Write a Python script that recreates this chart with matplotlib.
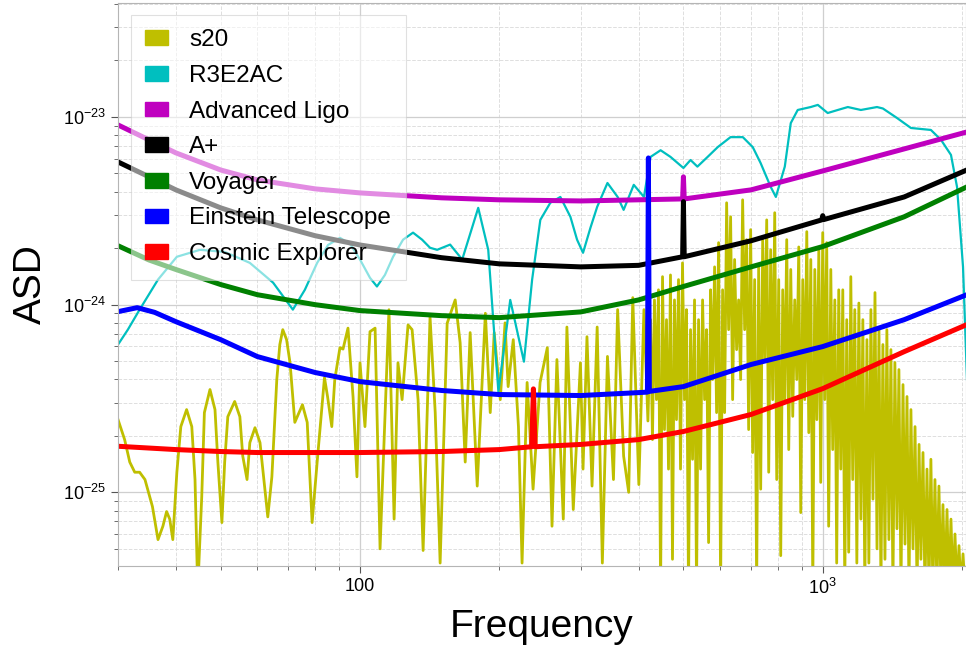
import numpy as np
import matplotlib
matplotlib.use("Agg")
import matplotlib.pyplot as plt
from matplotlib.patches import Patch
from matplotlib.ticker import NullFormatter

plt.rcParams['font.family'] = ['Liberation Sans', 'DejaVu Sans']
plt.rcParams['mathtext.fontset'] = 'custom'
plt.rcParams['mathtext.rm'] = 'Liberation Sans'
plt.rcParams['mathtext.it'] = 'Liberation Sans:italic'

# --- s20 supernova waveform spectrum (ASD in units of 1e-25) ---
s20_f = [
    30.0, 31.0, 31.8, 32.6, 33.4, 34.3, 35.6, 36.6, 37.5, 38.2, 38.8, 39.4,
    40.2, 41.0, 42.2, 43.3, 44.0, 44.6, 45.5, 46.1, 47.4, 48.6, 49.3, 50.3,
    51.0, 51.8, 53.6, 55.0, 55.8, 57.0, 57.8, 59.3, 60.8, 62.3, 63.2, 64.5,
    66.1, 67.1, 68.1, 69.4, 70.6, 72.3, 75.1, 76.9, 78.8, 80.8, 83.8, 85.1,
    86.9, 88.2, 90.5, 91.9, 94.2, 96.6, 98.5, 100.0,
    102.5, 105.1, 107.8, 110.5, 115.5, 118.5, 120.8, 123.3, 127.0, 129.6,
    133.5, 136.9, 141.7, 145.4, 149.0, 154.3, 160.6, 164.6, 168.8, 173.0,
    179.2, 186.6, 191.2, 195.0, 201.0, 205.8, 209.0, 214.4, 220.0, 224.0,
    229.7, 236.6, 245.0, 254.0, 260.0, 266.4, 275.0, 280.0, 289.0, 299.5,
    303.4, 309.4, 317.3, 325.5, 334.0, 342.6, 353.0, 360.4, 371.3, 380.8,
    388.6, 400.5, 410.8, 419.0,
    424.6, 428.6, 432.9, 437.2, 441.6, 446.3, 450.6, 455.0, 459.6, 464.2,
    468.8, 473.5, 478.2, 483.0, 487.9, 492.8, 497.7, 502.7, 507.7, 512.8,
    518.0, 523.2, 528.4, 533.7, 539.1, 544.5, 550.0, 555.5, 561.1, 566.7,
    572.3, 578.1, 583.9, 589.7, 595.6, 601.6, 607.6, 613.7, 619.9, 626.1,
    632.3, 638.7, 645.0, 651.5, 658.0, 664.7, 671.3, 678.0, 684.8, 691.7,
    698.6, 705.6, 712.7, 719.8, 727.0, 734.4, 741.7, 749.2, 756.7, 764.3,
    771.9, 779.7, 787.5, 795.4, 803.3, 811.4, 819.5, 827.7, 836.0, 844.4,
    852.9, 861.4, 870.0, 878.8, 887.6, 896.5, 905.5, 914.6, 923.7, 933.0,
    942.4, 951.8, 961.3, 971.0, 980.7, 990.1, 1000, 1010, 1020, 1030,
    1041, 1051, 1062, 1072, 1083, 1094, 1105, 1116, 1127, 1138,
    1150, 1161, 1173, 1185, 1197, 1209, 1221, 1233, 1246, 1258,
    1271, 1284, 1297, 1310, 1323, 1336, 1349, 1363, 1376, 1390,
    1404, 1418, 1432, 1447, 1461, 1476, 1491, 1506, 1521, 1536,
    1551, 1567, 1583, 1599, 1615, 1630, 1647, 1663, 1680, 1697,
    1713, 1730, 1748, 1765, 1783, 1801, 1819, 1837, 1856, 1874,
    1893, 1912, 1931, 1951, 1970, 1990, 2010, 2030, 2050,
]
s20_val = [
    2.44, 1.91, 1.45, 1.28, 1.28, 1.17, 0.84, 0.56, 0.66, 0.79, 0.72, 0.56,
    1.28, 2.24, 2.76, 2.24, 1.17, 0.30, 0.95, 2.66, 3.53, 2.76, 1.45, 0.69,
    1.45, 2.53, 3.05, 2.53, 1.56, 1.17, 1.84, 2.21, 1.84, 1.04, 0.74, 1.21,
    3.99, 6.13, 7.36, 6.51, 4.90, 2.36, 2.93, 2.36, 0.69, 1.45, 4.09, 3.23,
    2.24, 3.99, 5.90, 5.80, 7.50, 3.23, 1.21, 4.90,
    2.24, 7.18, 7.50, 0.50, 9.40, 0.72, 4.90, 3.12, 7.80, 7.36,
    3.12, 0.49, 8.60, 2.66, 0.42, 7.96, 10.6, 6.27, 1.45, 7.10,
    1.08, 9.00, 2.66, 7.10, 3.12, 8.00, 3.66, 6.51, 2.24, 0.42,
    3.85, 1.04, 3.85, 5.90, 0.66, 5.10, 0.72, 7.60, 0.81, 4.90,
    1.33, 6.75, 1.08, 7.60, 0.42, 5.30, 1.17, 9.41, 1.56, 1.00,
    10.9, 1.10, 9.41, 2.40,
    8.32, 1.91, 10.6, 3.12, 12.0, 0.30, 14.1, 2.16, 8.32, 1.33,
    14.4, 0.44, 10.6, 2.44, 13.6, 1.33, 16.7, 3.12, 9.41, 0.30,
    7.36, 1.50, 10.6, 0.30, 8.32, 1.33, 10.6, 3.12, 7.36, 0.54,
    12.0, 3.99, 15.9, 2.66, 21.4, 0.30, 12.0, 2.66, 34.9, 7.36,
    29.4, 3.12, 17.4, 5.76, 10.6, 3.99, 36.2, 7.36, 22.2, 2.16,
    25.1, 1.63, 13.6, 0.30, 15.9, 1.04, 22.2, 5.10, 28.3, 1.28,
    19.6, 3.12, 30.9, 1.17, 13.6, 0.46, 12.0, 3.12, 22.2, 1.69,
    15.4, 2.54, 10.6, 3.99, 20.3, 0.78, 13.6, 3.12, 24.5, 2.08,
    17.4, 0.30, 15.4, 2.44, 19.6, 1.13, 24.2, 3.12, 21.4, 0.66,
    15.4, 1.69, 10.6, 0.42, 12.0, 1.33, 12.0, 0.30, 8.32, 0.48,
    14.1, 1.17, 9.41, 0.42, 10.2, 0.72, 8.32, 0.30, 6.51, 0.42,
    9.41, 0.92, 11.6, 0.50, 7.36, 0.30, 6.13, 0.44, 7.36, 0.56,
    5.76, 0.30, 4.92, 0.64, 4.51, 0.30, 3.75, 0.53, 3.24, 0.30,
    2.76, 0.50, 2.24, 0.30, 1.80, 0.44, 1.63, 0.30, 1.33, 0.30,
    1.50, 0.30, 1.17, 0.30, 1.08, 0.30, 0.86, 0.30, 0.81, 0.30,
    0.72, 0.30, 0.60, 0.30, 0.52, 0.30, 0.47, 0.30, 0.40,
]
s20_asd = np.array(s20_val) * 1e-25

# --- R3E2AC detector ---
r3_f = [30.0, 31.5, 33.4, 36.6, 40.2, 45.1, 51.0, 57.8, 64.9, 71.6, 76.0,
        80.8, 85.3, 90.5, 95.2, 100.0, 105.1, 108.8, 113.2, 117.9, 123.9,
        130.2, 136.2, 141.7, 146.8, 156.6, 166.3, 180.1, 189.3, 199.1, 211.2,
        226.1, 235.5, 245.3, 257.8, 271.0, 284.9, 294.5, 303.4, 314.8, 325.5,
        342.6, 360.4, 371.3, 390.5, 410.8, 424.6, 446.3, 468.8, 500.0, 518.0,
        536.0, 564.0, 593.0, 632.0, 672.0, 706.0, 734.0, 772.0, 792.0, 828.0,
        853.0, 883.0, 942.0, 976.0, 1025, 1078, 1133, 1209, 1310, 1349, 1447,
        1551, 1713, 1801, 1893, 1951, 2010, 2050]
r3_asd = [6.13e-25, 7.36e-25, 9.41e-25, 1.36e-24, 1.80e-24, 1.96e-24,
          1.91e-24, 1.67e-24, 1.31e-24, 9.41e-25, 1.20e-24, 1.67e-24,
          2.08e-24, 2.27e-24, 2.11e-24, 1.74e-24, 1.39e-24, 1.25e-24,
          1.44e-24, 1.80e-24, 2.22e-24, 2.42e-24, 2.22e-24, 2.01e-24,
          1.96e-24, 2.09e-24, 1.74e-24, 3.28e-24, 1.96e-24, 3.44e-25,
          1.06e-24, 4.97e-25, 1.36e-24, 2.83e-24, 3.49e-24, 3.75e-24,
          2.94e-24, 2.22e-24, 1.89e-24, 2.57e-24, 3.32e-24, 4.45e-24,
          3.75e-24, 3.20e-24, 4.35e-24, 3.75e-24, 6.13e-24, 6.65e-24,
          6.13e-24, 5.35e-24, 5.90e-24, 5.44e-24, 6.13e-24, 6.91e-24,
          7.81e-24, 7.81e-24, 6.91e-24, 5.69e-24, 4.24e-24, 3.75e-24,
          5.44e-24, 9.28e-24, 1.09e-23, 1.13e-23, 1.16e-23, 1.05e-23,
          1.09e-23, 1.13e-23, 1.09e-23, 1.13e-23, 1.11e-23, 9.88e-24,
          8.74e-24, 8.53e-24, 7.56e-24, 6.28e-24, 4.24e-24, 1.59e-24, 3.99e-25]

# --- Advanced LIGO ---
aligo_f = [30, 35, 40, 50, 60, 80, 100, 150, 200, 300, 400, 498, 500, 502,
           700, 1000, 1500, 2048]
aligo_asd = [9.07e-24, 7.55e-24, 6.44e-24, 5.22e-24, 4.62e-24, 4.14e-24,
             3.94e-24, 3.71e-24, 3.62e-24, 3.57e-24, 3.62e-24, 3.66e-24,
             4.80e-24, 3.66e-24, 4.09e-24, 5.16e-24, 6.76e-24, 8.32e-24]

# --- A+ ---
aplus_f = [30, 35, 40, 50, 60, 80, 100, 150, 200, 300, 400, 498, 500, 502,
           700, 995, 1000, 1005, 1500, 2048]
aplus_asd = [5.76e-24, 4.80e-24, 4.09e-24, 3.28e-24, 2.83e-24, 2.33e-24,
             2.08e-24, 1.78e-24, 1.65e-24, 1.59e-24, 1.62e-24, 1.80e-24,
             3.54e-24, 1.80e-24, 2.19e-24, 2.83e-24, 2.98e-24, 2.84e-24,
             3.75e-24, 5.22e-24]

# --- Voyager ---
voyager_f = [30, 35, 40, 50, 60, 80, 100, 150, 200, 300, 400, 500, 700,
             1000, 1500, 2048]
voyager_asd = [2.06e-24, 1.73e-24, 1.54e-24, 1.28e-24, 1.13e-24, 1.00e-24,
               9.30e-25, 8.74e-25, 8.53e-25, 9.15e-25, 1.06e-24, 1.25e-24,
               1.59e-24, 2.04e-24, 2.94e-24, 4.24e-24]

# --- Einstein Telescope ---
et_f = [30, 33, 36, 40, 50, 60, 80, 100, 150, 200, 300, 400, 418, 420, 422,
        500, 700, 1000, 1500, 2048]
et_asd = [9.18e-25, 9.64e-25, 9.10e-25, 8.12e-25, 6.51e-25, 5.29e-25,
          4.35e-25, 3.89e-25, 3.49e-25, 3.32e-25, 3.28e-25, 3.40e-25,
          3.42e-25, 6.05e-24, 3.45e-25, 3.66e-25, 4.80e-25, 5.98e-25,
          8.32e-25, 1.13e-24]

# --- Cosmic Explorer ---
ce_f = [30, 40, 50, 60, 80, 100, 150, 200, 235, 237, 239, 300, 400, 500,
        700, 1000, 1500, 2048]
ce_asd = [1.76e-25, 1.69e-25, 1.65e-25, 1.63e-25, 1.63e-25, 1.63e-25,
          1.65e-25, 1.69e-25, 1.75e-25, 3.56e-25, 1.75e-25, 1.80e-25,
          1.91e-25, 2.11e-25, 2.60e-25, 3.57e-25, 5.62e-25, 7.83e-25]

labels = ['s20', 'R3E2AC', 'Advanced Ligo', 'A+', 'Voyager',
          'Einstein Telescope', 'Cosmic Explorer']
colors = ['y', 'c', 'm', 'k', 'g', 'b', 'r']

fig = plt.figure(figsize=(9.66, 6.5), dpi=100)
ax = fig.add_axes([0.1222, 0.1292, 0.8778, 0.8662])

ax.loglog(s20_f, s20_asd, color=colors[0], lw=2.0)
ax.loglog(r3_f, r3_asd, color=colors[1], lw=1.6)
ax.loglog(aligo_f, aligo_asd, color=colors[2], lw=3.6)
ax.loglog(aplus_f, aplus_asd, color=colors[3], lw=3.6)
ax.loglog(voyager_f, voyager_asd, color=colors[4], lw=3.6)
ax.loglog(et_f, et_asd, color=colors[5], lw=3.6)
ax.loglog(ce_f, ce_asd, color=colors[6], lw=3.6)

ax.set_xlim(30, 2040)
ax.set_ylim(4.05e-26, 4.05e-23)

ax.set_xticks([100, 1000])
ax.set_xticklabels(['100', r'$10^{3}$'])
ax.set_yticks([1e-25, 1e-24, 1e-23])
ax.set_yticklabels([r'$10^{-25}$', r'$10^{-24}$', r'$10^{-23}$'])
ax.xaxis.set_minor_formatter(NullFormatter())
ax.yaxis.set_minor_formatter(NullFormatter())

ax.set_axisbelow(True)
ax.grid(True, which='major', color='#cfcfcf', lw=0.9, ls='-')
ax.grid(True, which='minor', color='#dedede', lw=0.7, ls='--')
for s in ax.spines.values():
    s.set_color('#b5b5b5')
    s.set_linewidth(0.8)
ax.tick_params(which='both', direction='out', color='#555555', labelsize=13)
ax.tick_params(which='major', length=5)
ax.tick_params(which='minor', length=3)

ax.set_xlabel('Frequency', fontsize=28, labelpad=8)
ax.set_ylabel('ASD', fontsize=28, labelpad=10)

handles = [Patch(facecolor=c, edgecolor=c) for c in colors]
leg = ax.legend(handles, labels, loc='upper left', bbox_to_anchor=(0.015, 0.979),
                borderaxespad=0, fontsize=17.5, handlelength=0.95,
                handleheight=0.55, handletextpad=0.86, labelspacing=0.56,
                fancybox=False, framealpha=0.55, edgecolor='#c8c8c8',
                borderpad=0.6)
leg.get_frame().set_linewidth(0.8)

fig.savefig('out.png', dpi=100)
